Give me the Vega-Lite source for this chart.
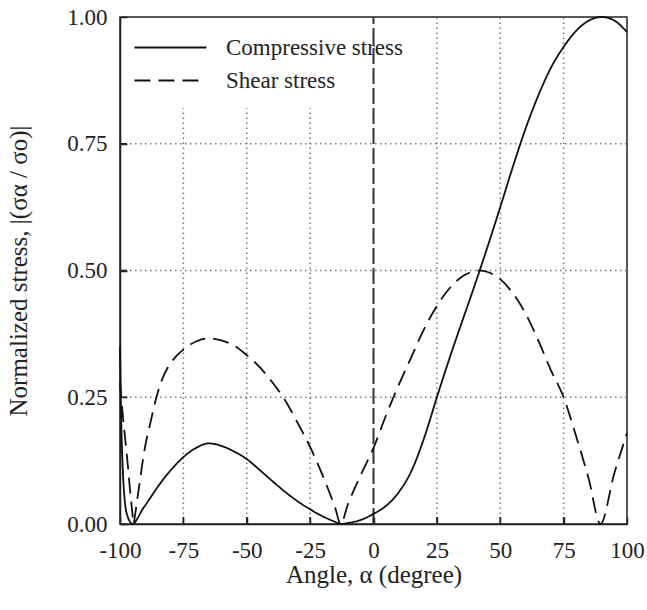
{
  "$schema": "https://vega.github.io/schema/vega-lite/v6.json",
  "width": 507,
  "height": 507,
  "autosize": "none",
  "padding": {"left": 120, "top": 17, "right": 20, "bottom": 86},
  "background": "white",
  "config": {
    "view": {"stroke": "#222", "strokeWidth": 1.5},
    "font": "Liberation Serif",
    "axis": {
      "labelFont": "Liberation Serif",
      "titleFont": "Liberation Serif",
      "labelFontSize": 23,
      "titleFontSize": 25,
      "titleFontWeight": "normal",
      "labelColor": "#222",
      "titleColor": "#222",
      "domainColor": "#222",
      "domainWidth": 1.5,
      "ticks": true,
      "tickColor": "#222",
      "tickWidth": 1.5,
      "tickSize": -7,
      "labelFlush": false,
      "grid": false,
      "zindex": 1
    }
  },
  "datasets": {
    "curves": [
      {"angle": -100, "stress": 0.35, "type": "Compressive stress"},
      {"angle": -99.5, "stress": 0.2, "type": "Compressive stress"},
      {"angle": -99, "stress": 0.12, "type": "Compressive stress"},
      {"angle": -98.5, "stress": 0.07, "type": "Compressive stress"},
      {"angle": -98, "stress": 0.04, "type": "Compressive stress"},
      {"angle": -97, "stress": 0.015, "type": "Compressive stress"},
      {"angle": -96, "stress": 0.004, "type": "Compressive stress"},
      {"angle": -95, "stress": 0.0, "type": "Compressive stress"},
      {"angle": -94, "stress": 0.004, "type": "Compressive stress"},
      {"angle": -93, "stress": 0.012, "type": "Compressive stress"},
      {"angle": -92, "stress": 0.021, "type": "Compressive stress"},
      {"angle": -91, "stress": 0.03, "type": "Compressive stress"},
      {"angle": -90, "stress": 0.037, "type": "Compressive stress"},
      {"angle": -88, "stress": 0.052, "type": "Compressive stress"},
      {"angle": -85, "stress": 0.074, "type": "Compressive stress"},
      {"angle": -82, "stress": 0.094, "type": "Compressive stress"},
      {"angle": -78, "stress": 0.117, "type": "Compressive stress"},
      {"angle": -75, "stress": 0.132, "type": "Compressive stress"},
      {"angle": -70, "stress": 0.15, "type": "Compressive stress"},
      {"angle": -65, "stress": 0.159, "type": "Compressive stress"},
      {"angle": -60, "stress": 0.154, "type": "Compressive stress"},
      {"angle": -55, "stress": 0.143, "type": "Compressive stress"},
      {"angle": -50, "stress": 0.128, "type": "Compressive stress"},
      {"angle": -45, "stress": 0.107, "type": "Compressive stress"},
      {"angle": -40, "stress": 0.085, "type": "Compressive stress"},
      {"angle": -35, "stress": 0.064, "type": "Compressive stress"},
      {"angle": -30, "stress": 0.045, "type": "Compressive stress"},
      {"angle": -25, "stress": 0.029, "type": "Compressive stress"},
      {"angle": -20, "stress": 0.015, "type": "Compressive stress"},
      {"angle": -15, "stress": 0.004, "type": "Compressive stress"},
      {"angle": -13, "stress": 0.0, "type": "Compressive stress"},
      {"angle": -10, "stress": 0.002, "type": "Compressive stress"},
      {"angle": -5, "stress": 0.008, "type": "Compressive stress"},
      {"angle": 0, "stress": 0.02, "type": "Compressive stress"},
      {"angle": 5, "stress": 0.036, "type": "Compressive stress"},
      {"angle": 10, "stress": 0.063, "type": "Compressive stress"},
      {"angle": 15, "stress": 0.105, "type": "Compressive stress"},
      {"angle": 20, "stress": 0.17, "type": "Compressive stress"},
      {"angle": 25, "stress": 0.25, "type": "Compressive stress"},
      {"angle": 30, "stress": 0.327, "type": "Compressive stress"},
      {"angle": 35, "stress": 0.4, "type": "Compressive stress"},
      {"angle": 40, "stress": 0.472, "type": "Compressive stress"},
      {"angle": 45, "stress": 0.547, "type": "Compressive stress"},
      {"angle": 50, "stress": 0.625, "type": "Compressive stress"},
      {"angle": 55, "stress": 0.705, "type": "Compressive stress"},
      {"angle": 60, "stress": 0.78, "type": "Compressive stress"},
      {"angle": 65, "stress": 0.845, "type": "Compressive stress"},
      {"angle": 70, "stress": 0.9, "type": "Compressive stress"},
      {"angle": 75, "stress": 0.941, "type": "Compressive stress"},
      {"angle": 80, "stress": 0.973, "type": "Compressive stress"},
      {"angle": 85, "stress": 0.993, "type": "Compressive stress"},
      {"angle": 90, "stress": 1.0, "type": "Compressive stress"},
      {"angle": 95, "stress": 0.993, "type": "Compressive stress"},
      {"angle": 100, "stress": 0.97, "type": "Compressive stress"},
      {"angle": -100, "stress": 0.28, "type": "Shear stress"},
      {"angle": -99, "stress": 0.22, "type": "Shear stress"},
      {"angle": -98, "stress": 0.17, "type": "Shear stress"},
      {"angle": -97, "stress": 0.12, "type": "Shear stress"},
      {"angle": -96, "stress": 0.065, "type": "Shear stress"},
      {"angle": -95, "stress": 0.015, "type": "Shear stress"},
      {"angle": -94.7, "stress": 0.0, "type": "Shear stress"},
      {"angle": -94, "stress": 0.02, "type": "Shear stress"},
      {"angle": -93, "stress": 0.055, "type": "Shear stress"},
      {"angle": -92, "stress": 0.09, "type": "Shear stress"},
      {"angle": -91, "stress": 0.125, "type": "Shear stress"},
      {"angle": -90, "stress": 0.155, "type": "Shear stress"},
      {"angle": -88, "stress": 0.2, "type": "Shear stress"},
      {"angle": -86, "stress": 0.243, "type": "Shear stress"},
      {"angle": -84, "stress": 0.277, "type": "Shear stress"},
      {"angle": -81, "stress": 0.31, "type": "Shear stress"},
      {"angle": -78, "stress": 0.33, "type": "Shear stress"},
      {"angle": -75, "stress": 0.344, "type": "Shear stress"},
      {"angle": -70, "stress": 0.36, "type": "Shear stress"},
      {"angle": -65, "stress": 0.366, "type": "Shear stress"},
      {"angle": -60, "stress": 0.362, "type": "Shear stress"},
      {"angle": -55, "stress": 0.352, "type": "Shear stress"},
      {"angle": -50, "stress": 0.333, "type": "Shear stress"},
      {"angle": -45, "stress": 0.31, "type": "Shear stress"},
      {"angle": -40, "stress": 0.28, "type": "Shear stress"},
      {"angle": -35, "stress": 0.245, "type": "Shear stress"},
      {"angle": -30, "stress": 0.2, "type": "Shear stress"},
      {"angle": -25, "stress": 0.152, "type": "Shear stress"},
      {"angle": -20, "stress": 0.095, "type": "Shear stress"},
      {"angle": -15, "stress": 0.03, "type": "Shear stress"},
      {"angle": -13, "stress": 0.0, "type": "Shear stress"},
      {"angle": -10, "stress": 0.04, "type": "Shear stress"},
      {"angle": -5, "stress": 0.097, "type": "Shear stress"},
      {"angle": 0, "stress": 0.15, "type": "Shear stress"},
      {"angle": 5, "stress": 0.215, "type": "Shear stress"},
      {"angle": 10, "stress": 0.275, "type": "Shear stress"},
      {"angle": 15, "stress": 0.33, "type": "Shear stress"},
      {"angle": 20, "stress": 0.385, "type": "Shear stress"},
      {"angle": 25, "stress": 0.43, "type": "Shear stress"},
      {"angle": 30, "stress": 0.465, "type": "Shear stress"},
      {"angle": 35, "stress": 0.488, "type": "Shear stress"},
      {"angle": 40, "stress": 0.499, "type": "Shear stress"},
      {"angle": 42, "stress": 0.5, "type": "Shear stress"},
      {"angle": 45, "stress": 0.497, "type": "Shear stress"},
      {"angle": 50, "stress": 0.483, "type": "Shear stress"},
      {"angle": 55, "stress": 0.455, "type": "Shear stress"},
      {"angle": 60, "stress": 0.415, "type": "Shear stress"},
      {"angle": 65, "stress": 0.362, "type": "Shear stress"},
      {"angle": 70, "stress": 0.303, "type": "Shear stress"},
      {"angle": 75, "stress": 0.25, "type": "Shear stress"},
      {"angle": 80, "stress": 0.172, "type": "Shear stress"},
      {"angle": 85, "stress": 0.087, "type": "Shear stress"},
      {"angle": 89.5, "stress": 0.0, "type": "Shear stress"},
      {"angle": 95, "stress": 0.1, "type": "Shear stress"},
      {"angle": 100, "stress": 0.179, "type": "Shear stress"}
    ],
    "vgrid": [
      {"angle": -75, "stress": 0, "stress2": 0.82},
      {"angle": -50, "stress": 0, "stress2": 0.82},
      {"angle": -25, "stress": 0, "stress2": 0.82},
      {"angle": 25, "stress": 0, "stress2": 1},
      {"angle": 50, "stress": 0, "stress2": 1},
      {"angle": 75, "stress": 0, "stress2": 1}
    ],
    "hgrid": [
      {"angle": -100, "angle2": 100, "stress": 0.25},
      {"angle": -100, "angle2": 100, "stress": 0.5},
      {"angle": -100, "angle2": 100, "stress": 0.75}
    ],
    "zero": [
      {"angle": 0, "stress": 0, "stress2": 1}
    ],
    "xticks": [
      {"angle": -75, "stress": 0},
      {"angle": -50, "stress": 0},
      {"angle": -25, "stress": 0},
      {"angle": 0, "stress": 0},
      {"angle": 25, "stress": 0},
      {"angle": 50, "stress": 0},
      {"angle": 75, "stress": 0}
    ],
    "yticks": [
      {"angle": -100, "stress": 0.25},
      {"angle": -100, "stress": 0.5},
      {"angle": -100, "stress": 0.75}
    ]
  },
  "encoding": {
    "x": {
      "field": "angle",
      "type": "quantitative",
      "scale": {"domain": [-100, 100], "nice": false, "zero": false},
      "axis": {
        "values": [-100, -75, -50, -25, 0, 25, 50, 75, 100],
        "labelExpr": "'' + datum.value",
        "title": "Angle, α (degree)",
        "labelPadding": 22,
        "titlePadding": 0
      }
    },
    "y": {
      "field": "stress",
      "type": "quantitative",
      "scale": {"domain": [0, 1], "nice": false},
      "axis": {
        "values": [0, 0.25, 0.5, 0.75, 1],
        "format": ".2f",
        "title": "Normalized stress, |(σα / σo)|",
        "labelPadding": 20,
        "titlePadding": 35
      }
    }
  },
  "layer": [
    {
      "data": {"name": "vgrid"},
      "mark": {"type": "rule", "color": "#777", "strokeWidth": 1.5, "strokeDash": [1.5, 3.5]},
      "encoding": {"y2": {"field": "stress2"}}
    },
    {
      "data": {"name": "hgrid"},
      "mark": {"type": "rule", "color": "#777", "strokeWidth": 1.5, "strokeDash": [1.5, 3.5]},
      "encoding": {"x2": {"field": "angle2"}}
    },
    {
      "data": {"name": "xticks"},
      "mark": {"type": "tick", "orient": "vertical", "color": "#222", "size": 14, "thickness": 1.5, "opacity": 1, "clip": true}
    },
    {
      "data": {"name": "yticks"},
      "mark": {"type": "tick", "orient": "horizontal", "color": "#222", "size": 14, "thickness": 1.5, "opacity": 1, "clip": true}
    },
    {
      "data": {"name": "zero"},
      "mark": {"type": "rule", "color": "#333", "strokeWidth": 2, "strokeDash": [16, 4]},
      "encoding": {"y2": {"field": "stress2"}}
    },
    {
      "data": {"name": "curves"},
      "mark": {"type": "line", "color": "#111", "strokeWidth": 1.8, "interpolate": "monotone"},
      "encoding": {
        "strokeDash": {
          "field": "type",
          "type": "nominal",
          "scale": {"domain": ["Compressive stress", "Shear stress"], "range": [[1, 0], [16, 8]]},
          "legend": {
            "title": null,
            "orient": "none",
            "legendX": 39,
            "legendY": 19,
            "symbolType": "M-3.6,0H3.6",
            "symbolSize": 400,
            "symbolStrokeWidth": 1.8,
            "symbolStrokeColor": "#111",
            "labelFont": "Liberation Serif",
            "labelFontSize": 23,
            "labelColor": "#222",
            "labelOffset": 44,
            "rowPadding": 9,
            "labelLimit": 400
          }
        }
      }
    }
  ]
}
